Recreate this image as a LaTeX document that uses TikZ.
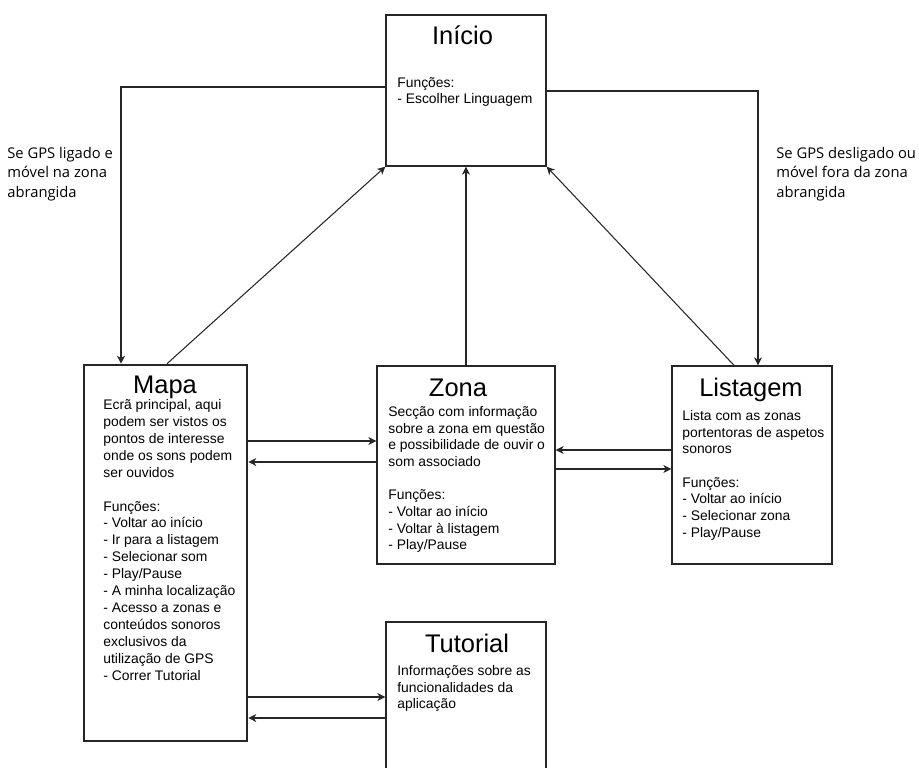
\documentclass[tikz,border=0pt]{standalone}
\usepackage{fontspec}
\setmainfont{Liberation Sans}
\newfontfamily\gpsfont{Open Sans}
\usetikzlibrary{arrows.meta,calc}

\tikzset{
  screen/.style={draw=black!85, line width=0.8pt, inner sep=0pt},
  heading/.style={font=\fontsize{14.5}{17}\selectfont, anchor=base, inner sep=0pt},
  info/.style={font=\fontsize{7.9}{9.5}\selectfont, align=left, anchor=north west, inner sep=0pt},
  gpsnote/.style={font=\gpsfont\fontsize{8.4}{11}\selectfont, align=left, anchor=north west, inner sep=0pt},
  link/.style={draw=black!85, line width=0.6pt, -{Stealth[length=4.5pt,width=4.5pt,inset=1.3pt]}}
}

\begin{document}
\begin{tikzpicture}[x=0.02cm, y=-0.02cm]
\useasboundingbox (0,0) rectangle (919,767);

% screens:
\node[screen, minimum width=3.2cm, minimum height=3.02cm] (inicio) at (466,90.5) {};
\node[screen, line width=1.5pt, minimum width=3.26cm, minimum height=7.52cm] (mapa) at (165.5,553) {};
\node[screen, minimum width=3.56cm, minimum height=3.96cm] (zona) at (466,465) {};
\node[screen, minimum width=3.2cm, minimum height=3.96cm] (listagem) at (752,465) {};
\begin{scope}
  \clip (0,0) rectangle (919,767);
  \node[screen, minimum width=3.2cm, minimum height=3.6cm] (tutorial) at (466,712) {};
\end{scope}

% titles and texts:
\node[heading] (inicioT) at (462.5,45) {Início};
\node[info] (inicioF) at (397,77) {Funções:\\- Escolher Linguagem};

\node[heading] (mapaT) at (165,393) {Mapa};
\node[info, font=\fontsize{7.9}{9.64}\selectfont] (mapaF) at (103,399) {Ecrã principal, aqui\\podem ser vistos os\\pontos de interesse\\onde os sons podem\\ser ouvidos\\[9.64pt]
  Funções:\\- Voltar ao início\\- Ir para a listagem\\- Selecionar som\\- Play/Pause\\- A minha localização\\- Acesso a zonas e\\conteúdos sonoros\\exclusivos da\\utilização de GPS\\- Correr Tutorial};

\node[heading] (zonaT) at (458,396) {Zona};
\node[info] (zonaF) at (388,406) {Secção com informação\\sobre a zona em questão\\e possibilidade de ouvir o\\som associado\\[9.5pt]
  Funções:\\- Voltar ao início\\- Voltar à listagem\\- Play/Pause};

\node[heading] (listagemT) at (751,396) {Listagem};
\node[info] (listagemF) at (682,410) {Lista com as zonas\\portentoras de aspetos\\sonoros\\[9.5pt]
  Funções:\\- Voltar ao início\\- Selecionar zona\\- Play/Pause};

\node[heading] (tutorialT) at (467,652) {Tutorial};
\node[info] (tutorialF) at (397,665) {Informações sobre as\\funcionalidades da\\aplicação};

% GPS conditions:
\node[gpsnote] (gpsOn) at (7,147) {Se GPS ligado e\\móvel na zona\\abrangida};
\node[gpsnote] (gpsOff) at (776,147) {Se GPS desligado ou\\móvel fora da zona\\abrangida};

% connectors:
\coordinate (toMapa) at ($(mapa.north)+(-44.5,0)$);
\coordinate (toListagem) at ($(listagem.north)+(6,0)$);
\draw[link] ($(inicio.west)+(0,-3.5)$) -| (toMapa);
\draw[link] ($(inicio.east)+(0,0.5)$) -| (toListagem);

\draw[link] ($(mapa.north)+(1.5,0)$) -- (inicio.south west);
\draw[link] (zona.north) -- (inicio.south);
\draw[link] ($(listagem.north)+(-18,0)$) -- (inicio.south east);

\coordinate (mz1) at ($(zona.west)+(0,-24)$);
\coordinate (mz2) at ($(zona.west)+(0,-3)$);
\draw[link] (mz1 -| mapa.east) -- (mz1);
\draw[link] (mz2) -- (mz2 -| mapa.east);

\coordinate (zl1) at ($(listagem.west)+(0,-15)$);
\coordinate (zl2) at ($(listagem.west)+(0,4)$);
\draw[link] (zl1) -- (zl1 -| zona.east);
\draw[link] (zl2 -| zona.east) -- (zl2);

\coordinate (mt1) at ($(tutorial.west)+(0,-15)$);
\coordinate (mt2) at ($(tutorial.west)+(0,6)$);
\draw[link] (mt1 -| mapa.east) -- (mt1);
\draw[link] (mt2) -- (mt2 -| mapa.east);

\end{tikzpicture}
\end{document}
